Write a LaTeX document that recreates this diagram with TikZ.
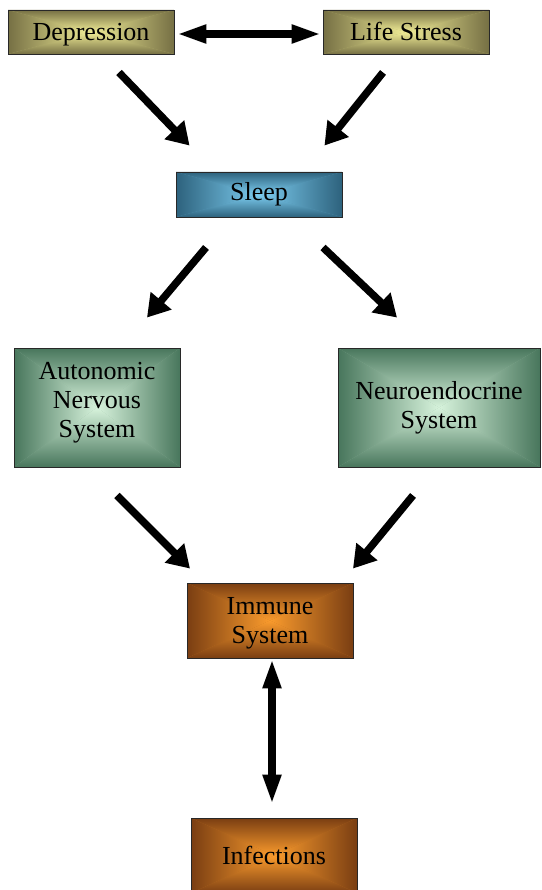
\documentclass[tikz,border=0pt]{standalone}
\usepackage{fontspec}
\setmainfont{Liberation Serif}
\usetikzlibrary{arrows.meta,calc}
\definecolor{olvout}{RGB}{118,112,68}
\definecolor{olvin}{RGB}{240,236,150}
\definecolor{bluout}{RGB}{45,98,125}
\definecolor{bluin}{RGB}{125,205,240}
\definecolor{grnout}{RGB}{72,118,92}
\definecolor{grnin}{RGB}{215,243,220}
\definecolor{orgout}{RGB}{122,62,18}
\definecolor{orgin}{RGB}{250,155,45}
\definecolor{edge}{RGB}{40,40,40}
\tikzset{
  rshade/.style 2 args={path picture={
    \fill[#1!50!#2] (path picture bounding box.south west) rectangle (path picture bounding box.north east);
    \shade[top color=#1,bottom color=#2] (path picture bounding box.north west) -- (path picture bounding box.north east) -- (path picture bounding box.center) -- cycle;
    \shade[top color=#2,bottom color=#1] (path picture bounding box.south west) -- (path picture bounding box.south east) -- (path picture bounding box.center) -- cycle;
    \shade[left color=#1,right color=#2] (path picture bounding box.north west) -- (path picture bounding box.south west) -- (path picture bounding box.center) -- cycle;
    \shade[left color=#2,right color=#1] (path picture bounding box.north east) -- (path picture bounding box.south east) -- (path picture bounding box.center) -- cycle;
  }},
  gbox/.style={draw=edge, line width=0.9pt, rectangle, inner sep=0pt, align=center,
    font=\fontsize{26}{29}\selectfont, text=black},
  oneline/.style={text height=17pt, text depth=0pt},
  olvbox/.style={gbox, rshade={olvout}{olvin}},
  blubox/.style={gbox, rshade={bluout}{bluin}},
  grnbox/.style={gbox, rshade={grnout}{grnin}},
  orgbox/.style={gbox, rshade={orgout}{orgin}},
  diagarrow/.style={line width=7.5pt, -{Triangle[length=22pt,width=26pt]}},
  dblarrow/.style={line width=7.5pt, {Triangle[length=30pt,width=17pt]}-{Triangle[length=30pt,width=17pt]}}
}
\begin{document}
\begin{tikzpicture}[x=1pt,y=-1pt]
\useasboundingbox (0,0) rectangle (541,890);
\node[olvbox, oneline, minimum width=166pt, minimum height=44pt] (dep) at (91,32) {Depression};
\node[olvbox, oneline, minimum width=166pt, minimum height=44pt] (life) at (406,32) {Life Stress};
\node[blubox, minimum width=166pt, minimum height=45pt] (sleep) at (259,194.5) {Sleep};
\node[grnbox, text depth=16pt, minimum width=166pt, minimum height=119pt] (ans) at (97,407.5) {Autonomic\\Nervous\\System};
\node[grnbox, minimum width=202pt, minimum height=119pt] (nes) at (439,407.5) {Neuroendocrine\\System};
\node[orgbox, text depth=1pt, minimum width=166pt, minimum height=75pt] (imm) at (270,620.5) {Immune\\System};
\node[orgbox, oneline, minimum width=166pt, minimum height=75pt] (inf) at (274,855.5) {Infections};

\draw[dblarrow] ($(dep.east)+(2,2)$) -- ($(life.west)+(-1,2)$);
\draw[diagarrow] ($(dep.south)+(28,18)$) -- ($(sleep.north west)+(14,-26)$);
\draw[diagarrow] ($(life.south)+(-23,18)$) -- ($(sleep.north east)+(-18,-26)$);
\draw[diagarrow] ($(sleep.south)+(-53,30)$) -- ($(ans.north)+(50,-30)$);
\draw[diagarrow] ($(sleep.south)+(64,30)$) -- ($(nes.north)+(-42,-30)$);
\draw[diagarrow] ($(ans.south)+(20,28)$) -- ($(imm.north)+(-80,-14)$);
\draw[diagarrow] ($(nes.south)+(-26,28)$) -- ($(imm.north)+(83,-14)$);
\draw[dblarrow] ($(imm.south)+(2,0)$) -- ($(inf.north)+(-2,-13)$);
\end{tikzpicture}
\end{document}
